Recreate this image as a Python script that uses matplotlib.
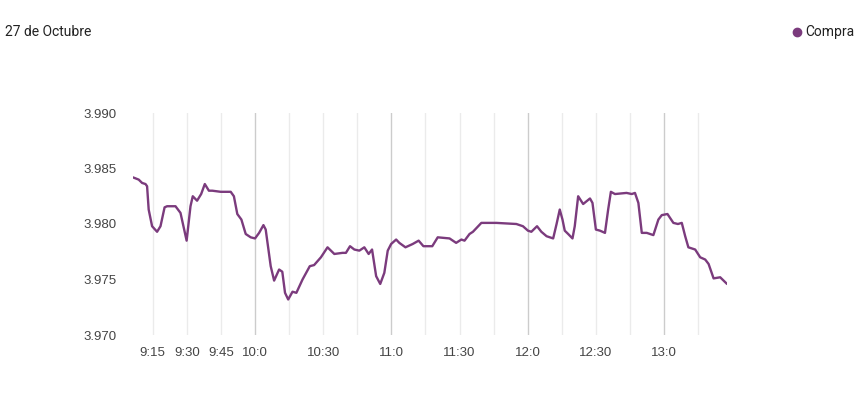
import matplotlib
matplotlib.use("Agg")
import matplotlib.pyplot as plt

# minutes after 9:00 and the "Compra" rate
minutes = [6.3, 8.8, 10.3, 11.8, 12.5, 13.2, 14.7, 16.9, 18.4, 20.2, 21.3, 25.0, 27.2, 29.9,
           31.6, 32.6, 34.5, 36.3, 37.9, 39.7, 41.2, 44.9, 49.3, 50.7, 52.2, 54.0, 55.9, 58.1,
           60.0, 61.8, 63.7, 64.7, 66.9, 68.4, 70.6, 72.0, 73.2, 74.6, 76.5, 78.2, 80.9, 84.1,
           86.0, 89.0, 91.9, 94.9, 98.5, 100.0, 101.8, 103.7, 105.9, 108.1, 110.0, 111.5, 113.3,
           115.1, 116.9, 118.4, 119.9, 122.1, 123.5, 126.2, 129.4, 132.0, 134.1, 138.0, 140.4,
           145.6, 148.5, 150.8, 152.2, 154.4, 155.9, 159.6, 166.2, 175.0, 177.9, 180.1, 181.6,
           184.1, 186.0, 188.3, 191.2, 192.7, 194.1, 195.3, 196.3, 197.8, 199.7, 200.7, 202.2,
           204.4, 207.4, 208.5, 210.0, 211.8, 214.0, 215.4, 216.6, 218.4, 223.5, 225.8, 227.2,
           228.7, 230.2, 232.4, 235.3, 237.5, 239.0, 241.5, 244.1, 246.1, 247.8, 249.3, 250.7,
           253.7, 255.9, 258.1, 259.6, 261.8, 264.7, 267.7]
compra = [3.9842, 3.9840, 3.9837, 3.9836, 3.9834, 3.9813, 3.9798, 3.9793, 3.9798, 3.9815,
          3.9816, 3.9816, 3.9810, 3.9785, 3.9816, 3.9825, 3.9821, 3.9827, 3.9836, 3.9830,
          3.9830, 3.9829, 3.9829, 3.9825, 3.9809, 3.9804, 3.9791, 3.9788, 3.9787, 3.9792,
          3.9799, 3.9795, 3.9762, 3.9749, 3.9759, 3.9757, 3.9738, 3.9732, 3.9739, 3.9738,
          3.9750, 3.9762, 3.9763, 3.9770, 3.9779, 3.9773, 3.9774, 3.9774, 3.9780, 3.9777,
          3.9776, 3.9779, 3.9773, 3.9777, 3.9753, 3.9746, 3.9756, 3.9776, 3.9782, 3.9786,
          3.9783, 3.9779, 3.9782, 3.9785, 3.9780, 3.9780, 3.9788, 3.9787, 3.9783, 3.9786,
          3.9785, 3.9791, 3.9793, 3.9801, 3.9801, 3.9800, 3.9798, 3.9794, 3.9793, 3.9798,
          3.9793, 3.9789, 3.9787, 3.9800, 3.9813, 3.9804, 3.9794, 3.9791, 3.9787, 3.9798,
          3.9825, 3.9818, 3.9823, 3.9819, 3.9795, 3.9794, 3.9792, 3.9813, 3.9829, 3.9827,
          3.9828, 3.9827, 3.9828, 3.9819, 3.9792, 3.9792, 3.9790, 3.9804, 3.9808, 3.9809,
          3.9801, 3.9800, 3.9801, 3.9789, 3.9779, 3.9777, 3.9770, 3.9768, 3.9764, 3.9751,
          3.9752, 3.9746]

grid_minutes = list(range(15, 256, 15))
label_minutes = [15, 30, 45, 60, 90, 120, 150, 180, 210, 240]
label_texts = ["9:15", "9:30", "9:45", "10:0", "10:30", "11:0", "11:30", "12:0", "12:30", "13:0"]
y_ticks = [3.970, 3.975, 3.980, 3.985, 3.990]

plt.rcParams['font.family'] = ['Roboto', 'DejaVu Sans']

fig = plt.figure(figsize=(8.59, 3.93), dpi=100)
ax = fig.add_axes([133 / 859, 58 / 393, 594 / 859, 222 / 393])

# vertical grid: darker on the hour
for m in grid_minutes:
    c = '#cccccc' if m % 60 == 0 else '#ebebeb'
    ax.axvline(m, color=c, lw=1, zorder=1)

ax.plot(minutes, compra, color='#7b3b7d', lw=1.7, zorder=3,
        solid_joinstyle='round', solid_capstyle='round', antialiased=True)

ax.set_xlim(minutes[0], minutes[-1])
ax.set_ylim(3.970, 3.990)
ax.set_xticks(label_minutes)
ax.set_xticklabels(label_texts)
ax.set_yticks(y_ticks)
ax.set_yticklabels([f"{v:.3f}" for v in y_ticks])
ax.tick_params(length=0, labelsize=9.5, colors='#444444')
ax.tick_params(axis='x', pad=9)
ax.tick_params(axis='y', pad=12)
for lab in ax.get_xticklabels() + ax.get_yticklabels():
    lab.set_family(['Liberation Sans', 'DejaVu Sans'])
for s in ax.spines.values():
    s.set_visible(False)

fig.text(5 / 859, 1 - 32 / 393, "27 de Octubre", fontsize=10, color='#222222', va='center')
fig.text(805 / 859, 1 - 32 / 393, "Compra", fontsize=10, color='#222222', va='center')
fig.add_artist(plt.Line2D([797 / 859], [1 - 32 / 393], marker='o', markersize=6,
                          color='#7b3b7d', transform=fig.transFigure))

fig.savefig("out.png", dpi=100)
